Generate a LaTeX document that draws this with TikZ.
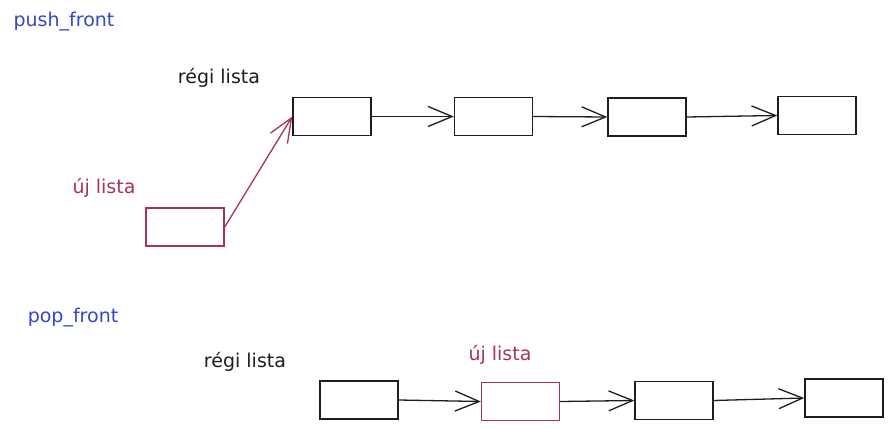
\documentclass[tikz,border=0pt]{standalone}
\usepackage{fontspec}
\setmainfont{DejaVu Sans}
\usetikzlibrary{arrows.meta,positioning}
\definecolor{ListBlue}{HTML}{3547C4}
\definecolor{ListPink}{HTML}{A8325E}
\definecolor{ListInk}{HTML}{1E1E1E}
\tikzstyle{elem} = [draw=ListInk,line width=1.4pt,minimum width=78pt,minimum height=38pt,inner sep=0pt]
\tikzstyle{next} = [draw=ListInk,line width=1.3pt,-{Straight Barb[length=24pt,width=20pt,line width=1.3pt]}]
\tikzstyle{caption} = [font=\fontsize{19}{22}\selectfont,inner sep=0pt,text=ListInk]

\begin{document}
\begin{tikzpicture}[x=1pt,y=-1pt]
					\useasboundingbox (0,0) rectangle (892,431);
					% push_front
					\node[caption,text=ListBlue] (push) at (64,22) {push\_front};
					\node[caption] (oldA) at (219,78) {régi lista};
					\node[caption,text=ListPink] (newA) at (104,188) {új lista};
					\node[elem] (b1) at (332,116.5) {};
					\node[elem] (b2) at (493.5,116.5) {};
					\node[elem] (b3) at (647,117) {};
					\node[elem] (b4) at (817,115.5) {};
					\node[elem,draw=ListPink] (n0) at (185,227) {};
					
					\draw[next] (b1.east) -- (b2.west);
					\draw[next] (b2.east) -- (b3.west);
					\draw[next] (b3.east) -- (b4.west);
					\draw[next,draw=ListPink] (n0.east) -- (b1.west);
					
					% pop_front
					\node[caption,text=ListBlue] (pop) at (73,318) {pop\_front};
					\node[caption] (oldB) at (245,362) {régi lista};
					\node[caption,text=ListPink] (newB) at (500,355) {új lista};
					\node[elem] (c1) at (359,400) {};
					\node[elem,draw=ListPink] (c2) at (520.5,401.5) {};
					\node[elem] (c3) at (674,400.5) {};
					\node[elem] (c4) at (844,398) {};
					
					\draw[next] (c1.east) -- (c2.west);
					\draw[next] (c2.east) -- (c3.west);
					\draw[next] (c3.east) -- (c4.west);
					
\end{tikzpicture}
\end{document}
